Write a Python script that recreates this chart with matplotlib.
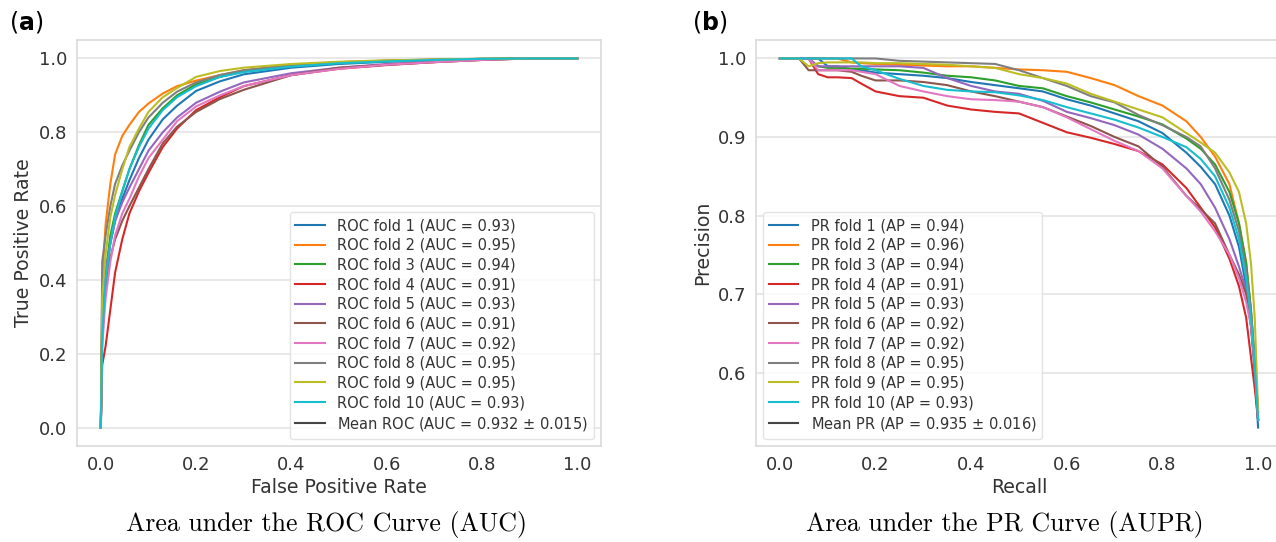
import numpy as np
import matplotlib.pyplot as plt

# ---- ROC data ----
fpr = [0.0, 0.003, 0.01, 0.02, 0.03, 0.045, 0.06, 0.08, 0.1, 0.13, 0.16,
       0.2, 0.25, 0.3, 0.4, 0.5, 0.6, 0.7, 0.8, 0.9, 1.0]

roc_tpr_1 = [0, 0.28, 0.40, 0.50, 0.56, 0.62, 0.67, 0.73, 0.78, 0.835, 0.872, 0.912, 0.938, 0.957, 0.975, 0.985, 0.991, 0.995, 0.998, 1.0, 1.0]
roc_tpr_2 = [0, 0.40, 0.55, 0.66, 0.74, 0.79, 0.82, 0.855, 0.878, 0.905, 0.925, 0.94, 0.955, 0.968, 0.982, 0.99, 0.994, 0.997, 0.999, 1.0, 1.0]
roc_tpr_3 = [0, 0.30, 0.42, 0.52, 0.58, 0.64, 0.70, 0.765, 0.82, 0.865, 0.90, 0.93, 0.95, 0.965, 0.98, 0.988, 0.993, 0.996, 0.999, 1.0, 1.0]
roc_tpr_4 = [0, 0.17, 0.22, 0.32, 0.42, 0.51, 0.58, 0.64, 0.69, 0.76, 0.81, 0.86, 0.895, 0.925, 0.955, 0.972, 0.982, 0.99, 0.996, 1.0, 1.0]
roc_tpr_5 = [0, 0.30, 0.42, 0.50, 0.56, 0.61, 0.65, 0.70, 0.75, 0.80, 0.84, 0.88, 0.91, 0.935, 0.96, 0.975, 0.985, 0.992, 0.997, 1.0, 1.0]
roc_tpr_6 = [0, 0.25, 0.38, 0.46, 0.51, 0.56, 0.60, 0.65, 0.70, 0.77, 0.815, 0.855, 0.89, 0.915, 0.955, 0.975, 0.983, 0.99, 0.996, 1.0, 1.0]
roc_tpr_7 = [0, 0.22, 0.35, 0.45, 0.52, 0.58, 0.62, 0.68, 0.73, 0.78, 0.83, 0.87, 0.90, 0.925, 0.955, 0.972, 0.983, 0.99, 0.996, 1.0, 1.0]
roc_tpr_8 = [0, 0.45, 0.52, 0.60, 0.66, 0.71, 0.75, 0.80, 0.84, 0.88, 0.91, 0.935, 0.955, 0.968, 0.982, 0.99, 0.994, 0.997, 0.999, 1.0, 1.0]
roc_tpr_9 = [0, 0.35, 0.47, 0.57, 0.63, 0.70, 0.76, 0.81, 0.855, 0.895, 0.92, 0.95, 0.966, 0.975, 0.985, 0.991, 0.995, 0.997, 0.999, 1.0, 1.0]
roc_tpr_10 = [0, 0.25, 0.40, 0.50, 0.57, 0.64, 0.70, 0.76, 0.81, 0.86, 0.895, 0.925, 0.95, 0.963, 0.978, 0.987, 0.992, 0.996, 0.999, 1.0, 1.0]

roc_auc = [0.93, 0.95, 0.94, 0.91, 0.93, 0.91, 0.92, 0.95, 0.95, 0.93]
roc_mean_auc, roc_std_auc = 0.932, 0.015

# ---- PR data ----
recall = [0, 0.04, 0.06, 0.08, 0.1, 0.12, 0.15, 0.17, 0.2, 0.25, 0.3, 0.35,
          0.4, 0.45, 0.5, 0.55, 0.6, 0.65, 0.7, 0.75, 0.8, 0.85, 0.88, 0.91,
          0.94, 0.96, 0.975, 0.985, 0.993, 1.0]

pr_prec_1 = [1, 1, 1, 1, 0.99, 0.99, 0.986, 0.985, 0.982, 0.98, 0.978, 0.975, 0.97, 0.966, 0.962, 0.958, 0.948, 0.94, 0.93, 0.92, 0.905, 0.88, 0.862, 0.84, 0.80, 0.76, 0.71, 0.66, 0.60, 0.53]
pr_prec_2 = [1, 1, 1, 1, 1, 1, 0.995, 0.994, 0.993, 0.992, 0.991, 0.99, 0.99, 0.988, 0.986, 0.985, 0.983, 0.975, 0.966, 0.952, 0.94, 0.92, 0.90, 0.875, 0.84, 0.79, 0.74, 0.68, 0.61, 0.55]
pr_prec_3 = [1, 1, 1, 0.99, 0.988, 0.988, 0.987, 0.987, 0.986, 0.985, 0.982, 0.978, 0.976, 0.972, 0.965, 0.962, 0.952, 0.944, 0.935, 0.926, 0.916, 0.898, 0.885, 0.865, 0.83, 0.79, 0.74, 0.68, 0.61, 0.54]
pr_prec_4 = [1, 1, 1, 0.98, 0.976, 0.976, 0.975, 0.968, 0.958, 0.952, 0.95, 0.94, 0.935, 0.932, 0.93, 0.918, 0.906, 0.899, 0.891, 0.882, 0.865, 0.835, 0.81, 0.785, 0.745, 0.71, 0.67, 0.62, 0.58, 0.54]
pr_prec_5 = [1, 1, 1, 0.99, 0.99, 0.99, 0.99, 0.99, 0.99, 0.99, 0.988, 0.975, 0.965, 0.958, 0.955, 0.946, 0.932, 0.924, 0.915, 0.903, 0.885, 0.86, 0.84, 0.81, 0.77, 0.735, 0.705, 0.665, 0.61, 0.54]
pr_prec_6 = [1, 1, 0.985, 0.985, 0.985, 0.985, 0.983, 0.978, 0.972, 0.972, 0.97, 0.966, 0.958, 0.952, 0.945, 0.938, 0.926, 0.914, 0.90, 0.888, 0.862, 0.825, 0.808, 0.79, 0.75, 0.725, 0.70, 0.66, 0.61, 0.54]
pr_prec_7 = [1, 1, 1, 0.985, 0.985, 0.985, 0.985, 0.983, 0.98, 0.965, 0.958, 0.952, 0.948, 0.947, 0.945, 0.938, 0.925, 0.91, 0.895, 0.882, 0.86, 0.825, 0.805, 0.78, 0.75, 0.72, 0.69, 0.66, 0.61, 0.54]
pr_prec_8 = [1, 1, 1, 1, 1, 1, 1, 1, 1, 0.997, 0.996, 0.995, 0.994, 0.993, 0.985, 0.975, 0.965, 0.952, 0.944, 0.928, 0.915, 0.90, 0.888, 0.86, 0.82, 0.78, 0.73, 0.68, 0.62, 0.55]
pr_prec_9 = [1, 1, 0.99, 0.994, 0.995, 0.995, 0.995, 0.995, 0.994, 0.994, 0.993, 0.992, 0.99, 0.988, 0.98, 0.975, 0.968, 0.955, 0.945, 0.935, 0.925, 0.905, 0.893, 0.88, 0.855, 0.83, 0.79, 0.74, 0.67, 0.55]
pr_prec_10 = [1, 1, 1, 1, 1, 1, 1, 0.99, 0.985, 0.974, 0.965, 0.96, 0.958, 0.957, 0.953, 0.947, 0.938, 0.93, 0.922, 0.912, 0.90, 0.887, 0.872, 0.85, 0.81, 0.77, 0.72, 0.67, 0.61, 0.54]

pr_ap = [0.94, 0.96, 0.94, 0.91, 0.93, 0.92, 0.92, 0.95, 0.95, 0.93]
pr_mean_ap, pr_std_ap = 0.935, 0.016

roc_curves = [roc_tpr_1, roc_tpr_2, roc_tpr_3, roc_tpr_4, roc_tpr_5,
              roc_tpr_6, roc_tpr_7, roc_tpr_8, roc_tpr_9, roc_tpr_10]
pr_curves = [pr_prec_1, pr_prec_2, pr_prec_3, pr_prec_4, pr_prec_5,
             pr_prec_6, pr_prec_7, pr_prec_8, pr_prec_9, pr_prec_10]

text_col = '#333333'
plt.rcParams['xtick.color'] = text_col
plt.rcParams['ytick.color'] = text_col
plt.rcParams['axes.labelcolor'] = text_col

W, H = 1276, 542
fig = plt.figure(figsize=(W / 100, H / 100), dpi=100)
ax1 = fig.add_axes([77 / W, 1 - 446 / H, 524 / W, 406 / H])
ax2 = fig.add_axes([756 / W, 1 - 446 / H, 526 / W, 406 / H])


def style_axes(ax):
    ax.set_facecolor('white')
    for s in ax.spines.values():
        s.set_color('#dadada')
        s.set_linewidth(1.2)
    ax.yaxis.grid(True, color='#e2e2e2', linewidth=1.1)
    ax.xaxis.grid(False)
    ax.set_axisbelow(True)
    ax.tick_params(length=0, pad=7, labelsize=13)


for i, tpr in enumerate(roc_curves):
    ax1.plot(fpr, tpr, lw=1.5, color='C%d' % i,
             label='ROC fold %d (AUC = %.2f)' % (i + 1, roc_auc[i]))
ax1.plot([], [], color='#444444', lw=1.5,
         label='Mean ROC (AUC = %.3f $\\pm$ %.3f)' % (roc_mean_auc, roc_std_auc))
style_axes(ax1)
ax1.set_xlim(-0.05, 1.05)
ax1.set_ylim(-0.05, 1.05)
ax1.set_xticks([0, 0.2, 0.4, 0.6, 0.8, 1.0])
ax1.set_yticks([0, 0.2, 0.4, 0.6, 0.8, 1.0])
ax1.set_xlabel('False Positive Rate', fontsize=13.6, labelpad=3)
ax1.set_ylabel('True Positive Rate', fontsize=13.6, labelpad=4)
ax1.legend(loc='lower right', fontsize=10.5, labelspacing=0.32,
           handlelength=2.0, handletextpad=0.85, borderpad=0.4,
           edgecolor='#dddddd', labelcolor=text_col)

for i, prec in enumerate(pr_curves):
    ax2.plot(recall, prec, lw=1.5, color='C%d' % i,
             label='PR fold %d (AP = %.2f)' % (i + 1, pr_ap[i]))
ax2.plot([], [], color='#444444', lw=1.5,
         label='Mean PR (AP = %.3f $\\pm$ %.3f)' % (pr_mean_ap, pr_std_ap))
style_axes(ax2)
ax2.set_xlim(-0.05, 1.05)
ax2.set_ylim(0.5065, 1.0235)
ax2.set_xticks([0, 0.2, 0.4, 0.6, 0.8, 1.0])
ax2.set_yticks([0.6, 0.7, 0.8, 0.9, 1.0])
ax2.set_xlabel('Recall', fontsize=13.6, labelpad=3)
ax2.set_ylabel('Precision', fontsize=13.6, labelpad=4)
ax2.legend(loc='lower left', fontsize=10.5, labelspacing=0.32,
           handlelength=2.0, handletextpad=0.85, borderpad=0.4,
           edgecolor='#dddddd', labelcolor=text_col)

fig.text(9 / W, 1 - 22 / H, r'($\mathbf{a}$)', fontsize=17, va='center', color='black')
fig.text(692 / W, 1 - 22 / H, r'($\mathbf{b}$)', fontsize=17, va='center', color='black')

fig.text(327 / W, 1 - 525 / H, 'Area under the ROC Curve (AUC)',
         fontfamily='cmr10', fontsize=18.6, ha='center', va='center')
fig.text(1005 / W, 1 - 525 / H, 'Area under the PR Curve (AUPR)',
         fontfamily='cmr10', fontsize=18.6, ha='center', va='center')

fig.savefig('out.png', dpi=100)
